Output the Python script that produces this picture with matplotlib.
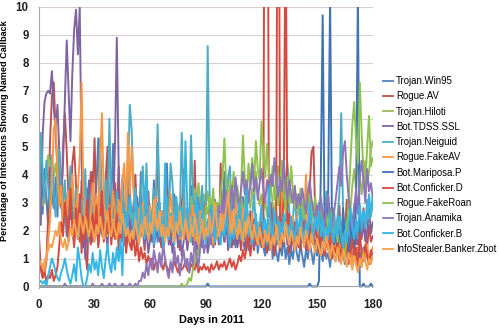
import matplotlib
matplotlib.use("Agg")
import matplotlib.pyplot as plt

days = list(range(181))

series_names = ["Trojan.Win95", "Rogue.AV", "Trojan.Hiloti", "Bot.TDSS.SSL",
                "Trojan.Neiguid", "Rogue.FakeAV", "Bot.Mariposa.P", "Bot.Conficker.D",
                "Rogue.FakeRoan", "Trojan.Anamika", "Bot.Conficker.B",
                "InfoStealer.Banker.Zbot"]

trojan_win95 = [
    3.2, 4.5, 2.6, 4.2, 3.1, 2.2, 4.6, 3.3, 2.8, 3.9,
    2.5, 4.8, 3.4, 2.1, 3.0, 1.8, 2.7, 3.8, 2.2, 1.6,
    2.9, 1.7, 2.4, 3.1, 1.4, 2.0, 3.5, 2.6, 1.9, 4.1,
    2.3, 3.6, 5.3, 2.8, 1.9, 3.2, 2.4, 4.4, 2.1, 3.0,
    5.1, 2.6, 1.8, 3.3, 2.2, 3.9, 2.7, 1.6, 2.4, 3.5,
    2.0, 2.9, 1.7, 3.2, 2.3, 4.1, 1.9, 2.6, 3.4, 1.8,
    2.7, 2.1, 3.8, 2.4, 1.6, 3.0, 2.2, 1.8, 2.9, 4.4,
    2.3, 1.7, 2.6, 3.3, 1.9, 2.4, 1.5, 3.1, 2.2, 1.8,
    2.8, 2.0, 3.6, 1.7, 2.5, 1.9, 3.2, 2.3, 1.6, 2.7,
    2.1, 1.8, 2.9, 1.5, 2.4, 3.1, 1.9, 2.6, 1.7, 2.3,
    4.1, 1.9, 2.5, 1.6, 3.0, 2.2, 1.4, 2.7, 1.8, 2.4,
    3.2, 1.7, 2.1, 1.3, 2.6, 1.9, 1.5, 2.3, 1.2, 1.8,
    2.4, 1.4, 1.1, 1.9, 1.3, 2.2, 1.0, 1.6, 1.2, 0.9,
    1.5, 1.1, 1.8, 1.0, 1.4, 0.8, 1.3, 1.0, 1.7, 1.2,
    0.9, 1.5, 1.1, 0.7, 1.3, 1.0, 1.6, 1.2, 0.8, 1.4,
    1.1, 1.7, 1.3, 0.9, 1.5, 1.0, 1.2, 0.7, 1.4, 1.1,
    0.9, 1.3, 1.0, 1.6, 1.2, 0.8, 1.4, 1.0, 1.3, 0.9,
    1.5, 1.1, 0.8, 1.2, 0.9, 1.4, 1.0, 1.3, 0.8, 1.1,
    1.2]

rogue_av = [
    1.8, 0.7, 0.5, 0.4, 0.9, 2.5, 5.2, 6.8, 7.3, 5.5,
    4.2, 3.5, 2.8, 5.0, 6.2, 4.8, 3.1, 2.4, 4.4, 5.0,
    3.6, 2.2, 1.6, 3.8, 2.7, 1.3, 0.6, 2.9, 4.1, 3.2,
    5.3, 2.5, 1.9, 4.6, 3.0, 1.7, 3.9, 5.0, 2.4, 3.3,
    1.8, 3.7, 2.6, 4.3, 2.1, 3.0, 1.5, 2.7, 3.9, 2.2,
    1.4, 2.8, 4.0, 2.3, 1.6, 3.1, 2.0, 1.3, 2.5, 3.4,
    2.1, 1.6, 3.0, 2.4, 5.3, 2.0, 1.4, 2.7, 1.9, 3.5,
    2.2, 1.5, 2.8, 1.8, 3.2, 2.1, 1.3, 2.6, 4.2, 1.7,
    2.4, 1.9, 2.9, 1.5, 4.5, 2.2, 1.6, 2.5, 1.8, 3.1,
    2.0, 1.4, 2.7, 1.9, 2.3, 1.5, 2.8, 1.7, 4.4, 2.1,
    1.6, 2.5, 1.8, 2.9, 1.4, 2.2, 1.7, 2.6, 1.9, 1.3,
    2.4, 1.8, 2.1, 1.5, 2.7, 1.9, 1.3, 2.2, 1.6, 2.0,
    1.4, 2.3, 1.7, 1.2, 2.0, 1.5, 1.8, 1.1, 1.6, 2.2,
    1.3, 1.9, 1.5, 2.4, 1.7, 1.2, 2.0, 1.6, 1.4, 2.1,
    1.8, 1.3, 2.5, 1.6, 2.2, 1.4, 3.5, 4.8, 5.0, 2.6,
    1.9, 1.5, 2.3, 1.7, 1.2, 2.0, 1.6, 2.4, 1.8, 1.3,
    2.1, 1.7, 2.9, 1.4, 2.2, 1.9, 3.1, 1.6, 2.5, 1.8,
    2.7, 2.0, 1.5, 2.3, 1.7, 2.8, 1.9, 1.4, 2.2, 1.6,
    1.8]

trojan_hiloti = [
    3.6, 3.2, 2.9, 3.4, 4.1, 4.7, 4.3, 4.6, 3.9, 4.4,
    3.8, 3.1, 4.0, 3.5, 2.8, 3.3, 2.6, 3.0, 2.4, 2.9,
    2.2, 2.7, 2.0, 2.5, 1.8, 2.3, 2.9, 2.1, 2.6, 1.9,
    2.4, 2.0, 2.7, 2.2, 1.8, 2.5, 2.1, 2.8, 2.3, 1.9,
    2.6, 2.2, 2.9, 2.4, 2.0, 2.7, 2.3, 2.1, 2.5, 2.8,
    2.3, 2.6, 2.1, 2.4, 2.8, 2.2, 2.5, 2.0, 2.4, 2.7,
    2.2, 2.5, 1.9, 2.3, 2.7, 2.1, 2.4, 2.0, 2.6, 2.3,
    2.0, 2.4, 2.8, 2.2, 2.5, 2.9, 2.3, 2.6, 2.1, 2.4,
    2.8, 2.3, 3.2, 2.6, 3.5, 2.9, 3.7, 3.1, 2.7, 3.3,
    2.9, 3.4, 2.8, 3.1, 2.6, 3.0, 2.4, 2.8, 3.2, 2.7,
    3.0, 2.5, 3.3, 2.8, 3.6, 3.1, 2.7, 3.4, 2.9, 3.2,
    2.6, 3.0, 3.7, 3.2, 2.8, 3.5, 3.0, 4.1, 3.4, 2.9,
    3.3, 2.7, 3.1, 2.5, 2.9, 3.6, 3.0, 2.6, 3.2, 4.3,
    3.7, 3.1, 2.8, 3.4, 4.4, 3.6, 3.0, 3.5, 2.9, 3.3,
    2.7, 3.1, 2.5, 2.9, 3.3, 2.6, 3.0, 2.4, 2.8, 3.2,
    2.5, 2.9, 2.3, 2.7, 2.1, 2.5, 2.0, 2.4, 1.8, 2.2,
    1.6, 2.0, 1.4, 1.8, 1.2, 1.6, 2.3, 1.9, 2.8, 3.6,
    4.2, 3.5, 4.8, 4.0, 3.3, 3.9, 4.5, 3.7, 4.1, 4.9,
    5.2]

bot_tdss = [
    3.3, 2.2, 5.4, 6.6, 6.9, 7.0, 6.9, 7.7, 6.4, 5.6,
    6.5, 4.8, 3.1, 4.4, 6.7, 8.8, 7.0, 5.2, 7.6, 9.2,
    9.9, 8.3, 10.0, 4.5, 2.1, 1.0, 2.6, 3.8, 2.2, 1.6,
    3.0, 2.3, 1.5, 2.7, 1.9, 3.4, 2.0, 1.4, 2.8, 1.7,
    2.5, 5.0, 8.9, 4.2, 1.8, 2.6, 1.5, 2.2, 3.1, 1.9,
    2.4, 1.6, 2.1, 1.3, 2.7, 1.8, 2.3, 1.5, 2.0, 1.2,
    1.7, 2.4, 1.4, 1.9, 2.8, 1.6, 2.2, 1.3, 1.8, 2.5,
    1.5, 2.0, 1.2, 1.7, 2.3, 1.4, 1.9, 1.1, 1.6, 2.2,
    1.3, 1.8, 2.6, 1.5, 2.1, 1.2, 1.7, 2.4, 1.4, 1.9,
    1.8, 1.2, 1.6, 2.1, 1.4, 1.9, 2.3, 1.5, 1.7, 2.2,
    1.6, 2.4, 1.3, 1.9, 2.6, 1.5, 2.0, 1.4, 1.8, 2.3,
    1.7, 1.3, 2.1, 1.6, 2.5, 1.8, 1.4, 2.0, 1.5, 1.9,
    2.4, 1.7, 1.3, 2.0, 1.6, 2.2, 1.5, 1.9, 2.6, 1.8,
    1.4, 2.1, 1.7, 2.3, 1.5, 1.9, 1.3, 2.0, 1.6, 2.4,
    1.8, 1.5, 2.2, 1.7, 1.3, 1.9, 2.5, 1.6, 2.0, 1.4,
    1.8, 2.3, 1.5, 1.9, 1.3, 2.1, 1.7, 2.6, 1.4, 1.8,
    2.2, 1.6, 2.0, 1.5, 2.4, 1.8, 1.3, 1.9, 2.5, 1.7,
    2.1, 1.5, 1.9, 2.6, 1.8, 2.2, 1.6, 2.0, 2.8, 1.9,
    2.3]

trojan_neiguid = [
    2.0, 5.5, 4.2, 3.0, 4.5, 3.6, 2.7, 4.7, 3.3, 2.5,
    4.0, 4.9, 3.2, 2.6, 3.8, 2.2, 3.0, 4.3, 2.8, 2.1,
    3.5, 2.4, 1.8, 3.1, 2.5, 4.2, 2.0, 1.6, 3.3, 2.7,
    1.9, 3.0, 2.4, 5.3, 2.6, 1.7, 3.8, 2.2, 6.0, 3.1,
    2.5, 1.8, 3.4, 2.7, 2.0, 3.6, 2.3, 1.7, 3.9, 6.5,
    5.6, 3.5, 2.4, 2.9, 2.1, 3.4, 4.3, 2.6, 4.4, 2.0,
    2.8, 2.2, 3.5, 2.5, 5.8, 3.0, 2.1, 2.7, 1.8, 3.2,
    2.4, 4.4, 3.7, 2.3, 2.9, 1.9, 2.6, 5.5, 3.1, 2.2,
    2.8, 2.0, 5.4, 3.3, 2.5, 1.8, 2.9, 2.3, 3.6, 2.1,
    2.6, 8.6, 3.4, 1.9, 2.4, 1.6, 2.9, 2.2, 1.7, 2.5,
    1.9, 2.7, 3.9, 4.3, 2.3, 1.8, 2.6, 2.0, 3.1, 1.7,
    2.4, 1.8, 2.9, 2.2, 1.6, 2.5, 3.3, 2.0, 1.5, 2.3,
    1.8, 2.6, 2.1, 1.5, 2.4, 1.9, 2.8, 2.2, 1.7, 2.5,
    2.0, 3.0, 2.3, 1.8, 4.2, 2.6, 1.9, 2.4, 3.5, 2.1,
    1.7, 2.5, 2.0, 2.9, 2.3, 1.8, 3.2, 2.4, 1.9, 2.7,
    2.2, 3.0, 1.9, 2.6, 2.1, 3.4, 2.5, 1.8, 2.3, 2.8,
    2.0, 2.5, 3.3, 6.2, 2.7, 1.9, 2.4, 2.0, 1.6, 2.2,
    2.9, 2.3, 1.7, 2.5, 2.0, 2.7, 2.2, 3.1, 2.4, 2.6,
    3.3]

rogue_fakeav = [
    0.9, 0.7, 0.8, 0.5, 1.0, 1.6, 2.4, 3.8, 5.6, 6.0,
    4.1, 2.9, 3.6, 2.2, 3.1, 2.5, 3.4, 2.7, 4.0, 3.0,
    2.3, 3.5, 4.6, 7.3, 3.2, 2.0, 2.8, 1.9, 2.6, 3.7,
    2.4, 3.3, 2.1, 4.5, 6.2, 3.0, 2.5, 1.8, 2.9, 2.3,
    3.4, 2.6, 2.0, 3.1, 2.4, 3.8, 4.4, 2.7, 5.5, 3.3,
    5.0, 3.6, 2.5, 2.0, 2.8, 2.2, 3.0, 1.9, 2.6, 2.1,
    2.9, 2.3, 1.8, 3.2, 2.5, 2.0, 2.7, 2.2, 3.0, 1.9,
    2.4, 3.3, 2.6, 2.0, 2.8, 2.3, 1.7, 2.5, 3.1, 2.2,
    1.8, 2.6, 2.1, 2.9, 1.6, 2.4, 1.9, 2.7, 2.2, 1.7,
    2.3, 1.8, 2.6, 2.0, 1.5, 2.2, 1.7, 2.5, 1.9, 2.8,
    2.1, 3.3, 2.4, 1.8, 2.7, 2.0, 3.3, 2.5, 1.9, 2.2,
    2.8, 2.1, 1.7, 2.4, 1.9, 2.6, 2.0, 1.6, 2.3, 1.8,
    2.5, 1.9, 2.2, 1.6, 2.0, 2.7, 1.8, 2.3, 1.7, 2.1,
    1.9, 3.4, 2.4, 1.8, 2.2, 1.6, 2.0, 2.5, 1.7, 2.3,
    2.8, 2.6, 1.9, 2.3, 4.0, 2.1, 1.5, 2.4, 1.8, 2.0,
    1.6, 2.2, 1.7, 1.4, 2.0, 1.5, 1.9, 1.3, 1.8, 1.2,
    1.6, 1.1, 1.5, 1.0, 1.4, 0.9, 1.3, 1.0, 1.5, 0.8,
    1.2, 0.9, 1.4, 1.1, 0.7, 1.3, 1.0, 1.5, 0.9, 1.2,
    1.4]

bot_mariposa = [
    0.0, 0.0, 0.0, 0.0, 0.0, 0.0, 0.0, 0.0, 0.0, 0.0,
    0.0, 0.0, 0.0, 0.0, 0.0, 0.0, 0.0, 0.0, 0.0, 0.0,
    0.0, 0.0, 0.0, 0.0, 0.0, 0.0, 0.0, 0.0, 0.0, 0.0,
    0.0, 0.0, 0.0, 0.0, 0.0, 0.0, 0.0, 0.0, 0.0, 0.0,
    0.0, 0.0, 0.0, 0.0, 0.0, 0.0, 0.0, 0.0, 0.0, 0.0,
    0.0, 0.0, 0.0, 0.0, 0.0, 0.0, 0.0, 0.0, 0.0, 0.0,
    0.0, 0.0, 0.0, 0.0, 0.0, 0.0, 0.0, 0.0, 0.0, 0.0,
    0.0, 0.0, 0.0, 0.0, 0.0, 0.0, 0.0, 0.0, 0.0, 0.0,
    0.0, 0.0, 0.0, 0.0, 0.0, 0.0, 0.0, 0.0, 0.0, 0.0,
    0.0, 0.1, 0.0, 0.0, 0.0, 0.0, 0.0, 0.0, 0.0, 0.0,
    0.0, 0.0, 0.0, 0.0, 0.0, 0.0, 0.0, 0.0, 0.0, 0.0,
    0.0, 0.0, 0.0, 0.0, 0.0, 0.0, 0.0, 0.0, 0.0, 0.0,
    0.0, 0.0, 0.0, 0.0, 0.0, 0.0, 0.0, 0.0, 0.0, 0.0,
    0.0, 0.0, 0.0, 0.0, 0.0, 0.0, 0.0, 0.0, 0.0, 0.0,
    0.0, 0.0, 0.0, 0.0, 0.0, 0.0, 0.1, 0.0, 0.0, 0.0,
    0.0, 0.2, 4.0, 9.7, 2.4, 1.6, 3.5, 10.4, 2.2, 1.5,
    1.9, 1.2, 2.3, 1.6, 2.8, 1.4, 2.0, 1.1, 1.7, 2.5,
    1.3, 3.0, 10.6, 0.0, 0.0, 0.1, 0.0, 0.0, 0.0, 0.1,
    0.0]

bot_conficker_d = [
    1.2, 0.6, 0.3, 0.5, 0.2, 0.4, 0.3, 0.6, 0.2, 0.4,
    0.7, 1.5, 2.3, 1.8, 3.0, 2.4, 1.6, 3.5, 2.1, 1.4,
    2.8, 1.9, 3.3, 1.2, 2.5, 1.7, 3.1, 2.0, 1.5, 2.6,
    1.8, 2.9, 1.4, 2.2, 3.4, 1.6, 2.4, 1.9, 2.8, 1.5,
    2.3, 1.7, 2.6, 1.3, 2.0, 1.6, 2.4, 1.2, 1.9, 1.5,
    1.3, 1.8, 1.1, 1.6, 0.9, 1.4, 1.0, 1.2, 0.8, 1.1,
    0.8, 1.0, 0.6, 0.9, 0.7, 1.1, 0.8, 0.6, 0.9, 0.7,
    0.5, 0.8, 0.6, 0.9, 0.7, 0.5, 0.8, 0.6, 0.7, 0.9,
    0.6, 0.5, 0.8, 0.7, 0.6, 0.9, 0.5, 0.7, 0.6, 0.8,
    0.6, 0.7, 0.5, 0.8, 0.6, 0.7, 0.9, 0.6, 0.8, 0.7,
    0.9, 0.6, 0.8, 1.0, 0.7, 0.9, 0.6, 0.8, 1.1, 0.9,
    1.3, 1.0, 1.4, 2.2, 1.1, 1.6, 2.4, 1.5, 2.0, 1.7,
    2.3, 1.8, 25.0, 25.0, 2.5, 3.0, 2.2, 1.9, 2.6, 25.0,
    2.4, 2.1, 3.2, 14.0, 1.8, 2.6, 2.0, 1.5, 2.3, 1.7,
    1.4, 2.0, 1.6, 2.4, 1.9, 1.3, 2.2, 1.7, 1.5, 2.1,
    1.8, 1.2, 2.0, 1.5, 1.1, 1.7, 1.3, 1.9, 1.0, 1.4,
    1.2, 1.6, 0.9, 1.3, 1.8, 1.1, 1.5, 0.8, 1.2, 1.7,
    1.0, 1.4, 0.7, 1.9, 1.2, 0.9, 1.5, 1.1, 0.8, 1.3,
    1.0]

rogue_fakeroan = [
    0.0, 0.0, 0.0, 0.0, 0.0, 0.0, 0.0, 0.0, 0.0, 0.0,
    0.0, 0.0, 0.0, 0.0, 0.0, 0.0, 0.0, 0.0, 0.0, 0.0,
    0.0, 0.0, 0.0, 0.0, 0.0, 0.0, 0.0, 0.0, 0.0, 0.0,
    0.0, 0.0, 0.0, 0.0, 0.0, 0.0, 0.0, 0.0, 0.0, 0.0,
    0.0, 0.0, 0.0, 0.0, 0.0, 0.0, 0.0, 0.0, 0.0, 0.0,
    0.0, 0.0, 0.0, 0.0, 0.0, 0.0, 0.0, 0.0, 0.0, 0.0,
    0.0, 0.0, 0.0, 0.0, 0.0, 0.0, 0.0, 0.0, 0.0, 0.0,
    0.0, 0.0, 0.0, 0.0, 0.0, 0.0, 0.0, 0.1, 0.0, 0.0,
    0.1, 0.3, 0.2, 0.6, 0.9, 1.3, 1.1, 1.8, 2.4, 2.0,
    2.9, 2.6, 3.2, 2.8, 3.5, 2.4, 3.0, 2.7, 3.4, 3.9,
    5.3, 3.6, 2.9, 3.8, 3.2, 4.1, 3.0, 3.6, 2.8, 3.4,
    5.4, 3.9, 3.1, 4.4, 3.5, 4.6, 3.7, 5.2, 4.2, 3.8,
    5.9, 4.8, 3.9, 5.1, 4.0, 3.4, 4.3, 3.1, 3.8, 2.9,
    3.6, 4.5, 3.3, 2.7, 3.9, 3.0, 4.3, 3.4, 2.8, 3.2,
    2.6, 3.5, 2.9, 2.4, 3.1, 2.7, 3.3, 2.5, 2.9, 2.2,
    2.8, 2.3, 3.0, 2.5, 1.9, 2.6, 2.1, 2.8, 2.4, 1.8,
    2.2, 1.6, 2.5, 1.9, 1.4, 1.1, 2.0, 3.1, 4.5, 5.8,
    6.6, 5.2, 4.4, 7.3, 5.5, 4.1, 3.6, 5.0, 6.1, 4.3,
    4.6]

trojan_anamika = [
    0.0, 0.0, 0.0, 0.0, 0.0, 0.0, 0.0, 0.0, 0.0, 0.0,
    0.0, 0.0, 0.0, 0.0, 0.1, 0.0, 0.0, 0.0, 0.0, 0.0,
    0.0, 0.0, 0.0, 0.0, 0.0, 0.0, 0.0, 0.0, 0.0, 0.1,
    0.0, 0.0, 0.0, 0.0, 0.1, 0.0, 0.0, 0.0, 0.1, 0.0,
    0.0, 0.1, 0.0, 0.0, 0.0, 0.1, 0.0, 0.0, 0.0, 0.1,
    0.0, 0.0, 0.1, 0.0, 0.2, 0.2, 0.5, 0.3, 0.8, 0.4,
    1.0, 0.6, 1.3, 0.9, 0.5, 1.2, 0.7, 1.5, 1.0, 0.6,
    0.3, 0.9, 0.5, 1.4, 0.8, 1.1, 0.4, 0.9, 1.3, 0.7,
    1.0, 0.5, 1.2, 0.8, 1.6, 1.1, 0.7, 1.4, 1.9, 1.2,
    1.6, 2.1, 1.5, 2.4, 1.8, 2.7, 2.0, 2.9, 2.3, 3.1,
    2.6, 3.4, 2.2, 3.0, 3.6, 2.8, 3.9, 3.2, 2.7, 3.5,
    4.1, 3.3, 3.8, 3.0, 3.6, 4.4, 3.4, 3.9, 3.1, 3.7,
    4.2, 3.5, 3.0, 3.8, 3.3, 4.0, 3.6, 4.6, 3.8, 3.2,
    3.9, 3.4, 4.5, 3.7, 3.1, 3.8, 3.3, 3.0, 3.6, 2.8,
    3.3, 2.9, 3.5, 3.0, 2.6, 3.4, 3.8, 3.1, 2.7, 2.3,
    2.9, 2.4, 3.2, 2.6, 2.1, 2.8, 3.3, 2.5, 2.0, 2.6,
    3.1, 3.7, 4.3, 3.6, 4.8, 5.2, 4.0, 3.2, 2.5, 2.0,
    2.8, 3.5, 2.6, 3.9, 4.5, 3.8, 3.0, 4.2, 3.4, 3.7,
    3.2]

bot_conficker_b = [
    0.2, 0.2, 0.1, 0.2, 0.0, 0.4, 0.7, 1.0, 0.8, 0.5,
    0.3, 0.2, 0.5, 0.7, 1.0, 0.6, 0.3, 0.1, 0.4, 0.8,
    0.2, 1.4, 0.9, 0.3, 0.0, 0.0, 0.3, 0.8, 0.5, 1.2,
    0.6, 0.9, 0.4, 1.3, 0.7, 0.3, 1.0, 1.5, 0.8, 0.5,
    1.2, 0.6, 1.4, 0.9, 1.7, 0.4, 2.8, 1.9, 2.4, 3.2,
    2.6, 1.8, 3.5, 2.2, 1.6, 2.9, 2.3, 1.7, 3.8, 2.4,
    1.9, 2.7, 1.5, 2.2, 3.0, 1.8, 2.5, 1.4, 4.4, 2.1,
    1.7, 2.6, 2.0, 1.5, 3.2, 2.3, 1.8, 2.8, 2.1, 5.2,
    2.9, 2.0, 1.6, 2.5, 1.9, 3.3, 2.2, 1.7, 2.6, 2.0,
    1.5, 2.4, 1.8, 2.9, 2.2, 1.6, 2.7, 2.0, 1.5, 2.3,
    1.8, 2.6, 1.9, 1.4, 2.2, 1.7, 2.5, 1.9, 3.0, 2.1,
    1.6, 2.4, 3.5, 1.8, 2.3, 1.5, 2.0, 2.6, 1.7, 2.2,
    2.9, 1.9, 2.4, 1.6, 3.6, 2.2, 1.8, 2.7, 2.0, 1.5,
    2.3, 1.8, 2.6, 1.9, 2.2, 1.6, 2.5, 2.0, 1.7, 2.4,
    1.9, 2.8, 2.1, 1.6, 2.3, 1.8, 3.0, 2.2, 1.7, 2.5,
    2.0, 2.7, 1.8, 2.4, 1.5, 2.1, 1.7, 2.6, 2.0, 1.6,
    2.2, 1.8, 2.5, 1.9, 1.4, 2.0, 1.6, 2.3, 2.8, 2.1,
    1.7, 2.4, 2.0, 2.9, 2.3, 2.7, 2.1, 2.6, 3.3, 2.5,
    3.0]

infostealer_zbot = [
    1.0, 0.8, 0.7, 0.9, 1.1, 1.3, 1.5, 1.4, 1.7, 2.0,
    1.8, 2.3, 1.6, 1.4, 1.7, 1.3, 1.6, 2.1, 1.8, 2.4,
    2.0, 1.7, 2.6, 2.2, 1.9, 2.5, 2.1, 1.8, 2.3, 2.0,
    1.6, 2.2, 1.9, 2.5, 2.1, 1.7, 2.3, 2.7, 2.0, 1.8,
    2.4, 2.0, 1.7, 2.3, 1.9, 2.6, 2.2, 1.8, 2.1, 1.6,
    2.0, 1.7, 2.4, 1.9, 1.5, 2.2, 1.8, 2.5, 2.0, 1.7,
    2.3, 1.9, 3.1, 2.4, 2.0, 2.7, 1.8, 2.2, 1.6, 2.1,
    1.8, 2.5, 2.0, 1.6, 2.3, 1.9, 2.7, 2.1, 1.7, 2.4,
    2.0, 1.6, 2.2, 1.8, 2.6, 2.1, 1.5, 1.9, 2.4, 1.7,
    2.1, 1.8, 2.5, 1.9, 2.3, 3.0, 2.2, 1.8, 2.6, 2.0,
    2.4, 2.8, 3.4, 2.3, 1.9, 2.6, 2.1, 1.7, 2.4, 2.0,
    1.6, 2.3, 1.9, 2.5, 2.0, 1.7, 2.2, 1.8, 1.5, 2.1,
    1.7, 1.4, 2.0, 1.6, 1.9, 1.3, 1.8, 1.5, 2.2, 1.7,
    1.4, 1.9, 1.6, 2.3, 1.8, 1.5, 2.0, 1.7, 1.3, 1.8,
    1.5, 2.1, 1.7, 1.4, 2.0, 1.6, 1.3, 1.9, 1.5, 1.2,
    1.7, 1.4, 1.1, 1.6, 1.3, 1.8, 1.4, 1.0, 1.5, 1.2,
    0.9, 1.4, 1.1, 0.8, 1.3, 1.0, 0.7, 1.2, 0.9, 0.6,
    1.1, 0.8, 0.5, 1.0, 0.7, 1.2, 0.9, 0.6, 1.0, 0.8,
    1.1]

all_series = [trojan_win95, rogue_av, trojan_hiloti, bot_tdss, trojan_neiguid,
              rogue_fakeav, bot_mariposa, bot_conficker_d, rogue_fakeroan,
              trojan_anamika, bot_conficker_b, infostealer_zbot]
colors = ["#4F81BD", "#C0504D", "#9BBB59", "#8064A2", "#4BACC6", "#F79646",
          "#3E73B5", "#D64A3F", "#8FC24E", "#8E74B8", "#35B5E6", "#F5A24F"]

for s in all_series:
    assert len(s) == 181, len(s)

plt.rcParams['font.family'] = ['Liberation Sans', 'DejaVu Sans']

fig = plt.figure(figsize=(4.99, 3.29), dpi=100)
ax = fig.add_axes([0.078, 0.125, 0.669, 0.854])

for name, vals, c in zip(series_names, all_series, colors):
    ax.plot(days, vals, color=c, lw=1.4, label=name, solid_joinstyle='round')

ax.set_xlim(0, 180)
ax.set_ylim(-0.05, 10)
ax.spines['bottom'].set_position(('data', 0))
ax.set_xticks(range(0, 181, 30))
ax.set_yticks(range(0, 11))
ax.yaxis.grid(True, color='#d8cfcf', lw=0.8)
ax.set_axisbelow(True)
for sp in ['top', 'right']:
    ax.spines[sp].set_visible(False)
ax.spines['left'].set_color('#a6a6a6')
ax.spines['bottom'].set_color('#a6a6a6')
ax.tick_params(length=0, labelsize=8.3, labelcolor='#222222')
for lab in ax.get_xticklabels() + ax.get_yticklabels():
    lab.set_fontweight('bold')
ax.tick_params(axis='y', pad=7.5)
ax.tick_params(axis='x', pad=9)
ax.set_xlabel('Days in 2011', fontsize=7.8, fontweight='bold')
ax.xaxis.set_label_coords((212 - 39) / 334, -0.095)
ax.set_ylabel('Percentage of Infections Showing Named Callback', fontsize=6.6,
              fontweight='bold')
ax.yaxis.set_label_coords(-0.09, 0.56)

leg = ax.legend(loc='upper left', bbox_to_anchor=(383 / 499, 1 - 76 / 329),
                bbox_transform=fig.transFigure, frameon=False, fontsize=6.9,
                handlelength=1.0, handletextpad=0.35, labelspacing=0.55,
                borderpad=0, borderaxespad=0)
for line in leg.get_lines():
    line.set_linewidth(1.3)

fig.savefig('out.png', dpi=100)
